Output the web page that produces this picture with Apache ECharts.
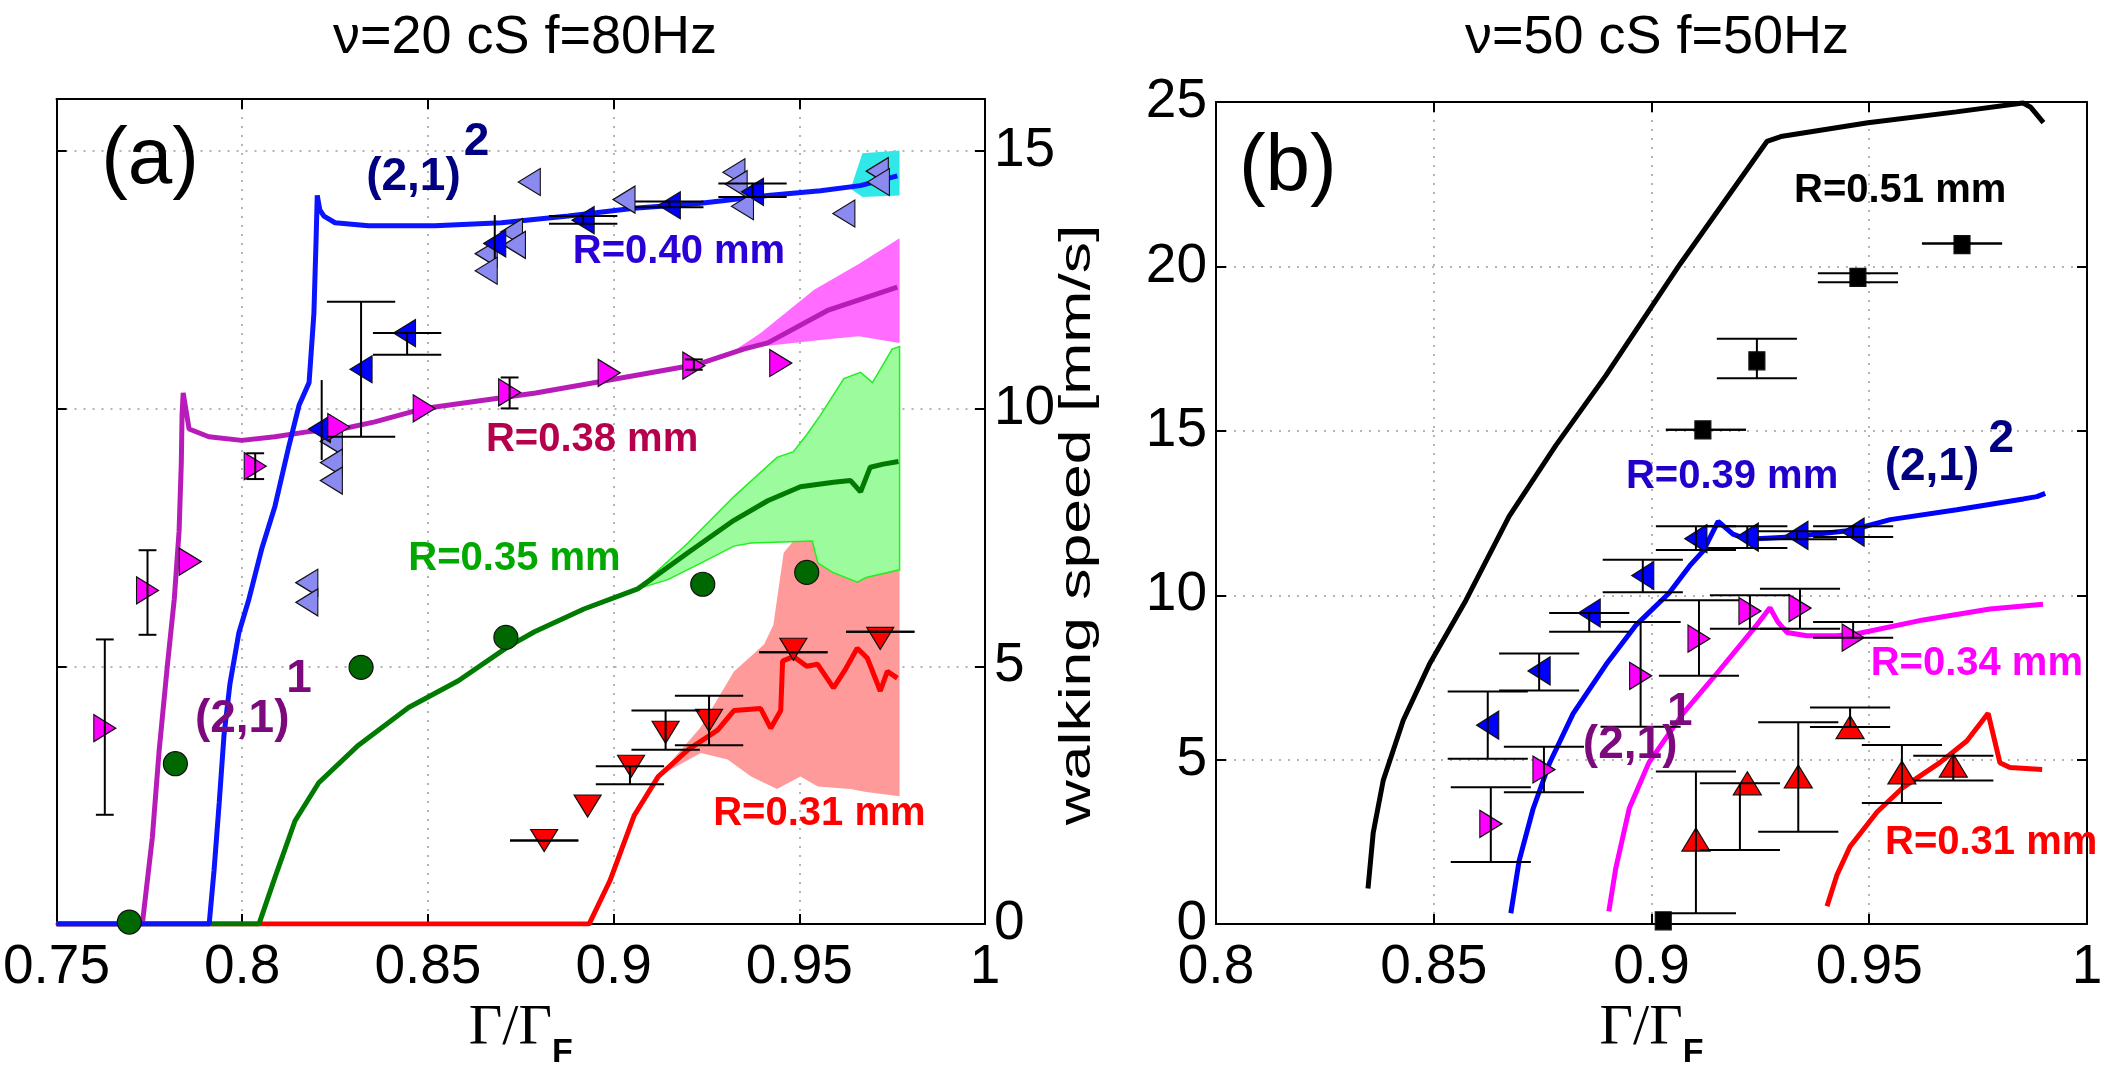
<!DOCTYPE html>
<html>
<head>
<meta charset="utf-8">
<title>walking speed vs forcing</title>
<script src="https://cdn.jsdelivr.net/npm/echarts@6/dist/echarts.min.js"></script>
<style>
  html, body { margin: 0; padding: 0; background: #fff; }
  #chart { width: 2116px; height: 1075px; }
</style>
</head>
<body>
<div id="chart"></div>
<script>
// panel (a): nu = 20 cS, f = 80 Hz   -- [gamma/gammaF, speed mm/s]
const blueCurveA = [[0.75,0],[0.7911,0],[0.7924,1.03],[0.7938,2.35],[0.7951,3.67],[0.7967,4.66],[0.7991,5.65],[0.8018,6.3],[0.8053,7.29],[0.8088,8.1],[0.8126,9.28],[0.8153,10.06],[0.818,10.5],[0.8193,11.84],[0.8199,13.3],[0.8202,14.13],[0.8209,13.85],[0.822,13.73],[0.825,13.6],[0.834,13.54],[0.8518,13.54],[0.8698,13.6],[0.8878,13.73],[0.9055,13.88],[0.9235,13.98],[0.9415,14.13],[0.9557,14.22],[0.9664,14.32],[0.9764,14.51]];
const magCurveA = [[0.75,0],[0.7731,0],[0.7758,1.68],[0.7776,3.34],[0.7798,4.98],[0.7817,6.3],[0.783,7.62],[0.7836,8.95],[0.7838,9.87],[0.7841,10.3],[0.7857,9.6],[0.791,9.45],[0.7999,9.38],[0.8088,9.45],[0.8179,9.55],[0.8268,9.6],[0.8357,9.74],[0.849,10.0],[0.879,10.3],[0.905,10.63],[0.9224,10.85],[0.935,11.15],[0.9415,11.27],[0.9576,11.9],[0.9764,12.35]];
const greenCurveA = [[0.75,0],[0.8045,0],[0.8088,0.9],[0.8142,2.0],[0.8206,2.74],[0.8313,3.47],[0.8448,4.2],[0.8582,4.72],[0.8716,5.38],[0.8787,5.67],[0.892,6.11],[0.9065,6.5],[0.92,7.2],[0.9324,7.83],[0.9415,8.21],[0.9503,8.48],[0.9592,8.57],[0.9638,8.6],[0.9665,8.38],[0.9691,8.86],[0.9726,8.92],[0.9767,8.97]];
const redCurveA = [[0.75,0],[0.8934,0],[0.899,0.84],[0.9055,2.1],[0.912,2.86],[0.92,3.38],[0.928,3.76],[0.9324,4.14],[0.9396,4.18],[0.9423,3.8],[0.945,4.14],[0.9455,5.1],[0.9484,5.19],[0.952,5.0],[0.9549,5.04],[0.9592,4.58],[0.9625,4.95],[0.9656,5.35],[0.9683,5.16],[0.9718,4.52],[0.9737,4.9],[0.9764,4.77]];

const magBandUpA = [[0.932,11.1],[0.9396,11.46],[0.954,12.3],[0.966,12.8],[0.977,13.3]];
const magBandLoA = [[0.932,11.1],[0.9396,11.2],[0.9576,11.34],[0.966,11.4],[0.977,11.27]];
const greenBandUpA = [[0.9065,6.5],[0.92,7.39],[0.9324,8.29],[0.944,9.05],[0.9484,9.16],[0.952,9.49],[0.9557,9.87],[0.962,10.58],[0.9665,10.7],[0.9697,10.5],[0.975,11.15],[0.977,11.2]];
const greenBandLoA = [[0.9065,6.5],[0.9146,6.68],[0.9235,7.0],[0.9324,7.33],[0.937,7.39],[0.9535,7.43],[0.955,7.0],[0.959,6.82],[0.9656,6.63],[0.968,6.72],[0.977,6.87]];
const redBandUpA = [[0.905,2.1],[0.912,2.86],[0.9235,3.82],[0.9324,4.9],[0.9405,5.42],[0.943,5.8],[0.944,6.3],[0.9458,7.2],[0.9484,7.43],[0.9535,7.43],[0.977,7.43]];
const redBandLoA = [[0.905,2.1],[0.912,2.86],[0.9235,3.32],[0.9307,3.19],[0.937,2.86],[0.944,2.62],[0.9503,2.86],[0.955,2.67],[0.9638,2.62],[0.968,2.56],[0.977,2.48]];
const cyanBandUpA = [[0.964,14.3],[0.967,14.95],[0.977,15.0]];
const cyanBandLoA = [[0.964,14.25],[0.967,14.1],[0.977,14.13]];

const lavenderA = [[0.8174,6.62],[0.8174,6.24],[0.824,9.36],[0.824,8.95],[0.824,8.6],[0.8657,13.0],[0.8657,12.67],[0.8725,13.42],[0.8733,13.17],[0.8773,14.39],[0.9028,14.05],[0.9324,14.58],[0.933,14.35],[0.9347,13.92],[0.962,13.78],[0.971,14.6],[0.9713,14.39]];
const blueA = [[0.8208,9.6],[0.832,10.76],[0.8437,11.46],[0.868,13.2],[0.8918,13.65],[0.915,13.94],[0.9374,14.2]];
const magA = [[0.763,3.8],[0.7745,6.47],[0.786,7.03],[0.8035,8.88],[0.826,9.64],[0.849,10.0],[0.872,10.31],[0.8988,10.69],[0.9216,10.83],[0.945,10.88]];
const greenA = [[0.7696,0.04],[0.782,3.11],[0.832,4.98],[0.871,5.56],[0.924,6.59],[0.952,6.82]];
const redA = [[0.8813,1.62],[0.893,2.29],[0.9047,3.06],[0.914,3.72],[0.9257,3.95],[0.9484,5.33],[0.9718,5.54]];

// error bars [x, low, high]
const errWideA = [[0.832,9.45,12.07],[0.8444,11.04,11.46],[0.8918,13.58,13.73],[0.915,13.9,14.01],[0.9374,14.1,14.36],[0.8813,1.62,1.62],[0.9044,2.71,3.06],[0.914,3.38,4.14],[0.9257,3.47,4.43],[0.9484,5.27,5.27],[0.9718,5.67,5.67]];
const errBareA = [[0.8214,9.0,10.55],[0.868,12.9,13.75]];
const errNarrowA = [[0.763,2.12,5.52],[0.7745,5.61,7.25],[0.8035,8.63,9.13],[0.872,10.0,10.6],[0.9216,10.75,10.95]];

// panel (b): nu = 50 cS, f = 50 Hz
const blackCurveB = [[0.8349,1.08],[0.8361,2.78],[0.8384,4.37],[0.843,6.2],[0.849,7.9],[0.8574,9.85],[0.8673,12.4],[0.878,14.55],[0.8895,16.68],[0.9065,20.06],[0.9265,23.8],[0.9297,23.95],[0.9497,24.37],[0.97,24.7],[0.9853,24.97],[0.987,24.85],[0.99,24.37]];
const blueCurveB = [[0.8677,0.33],[0.8696,1.92],[0.8728,3.5],[0.8766,4.9],[0.882,6.4],[0.8896,7.9],[0.8965,9.1],[0.904,10.06],[0.9088,10.9],[0.9119,11.35],[0.9153,12.25],[0.9187,11.86],[0.922,11.7],[0.9318,11.77],[0.9456,11.97],[0.9548,12.3],[0.9701,12.6],[0.9854,12.93],[0.9885,13.0],[0.9904,13.1]];
const magCurveB = [[0.8902,0.39],[0.8918,1.7],[0.8949,3.52],[0.8994,4.91],[0.9072,6.4],[0.9148,7.59],[0.9242,9.1],[0.9272,9.62],[0.929,9.19],[0.9311,8.87],[0.9357,8.77],[0.9426,8.77],[0.9472,8.83],[0.9624,9.25],[0.9777,9.58],[0.9899,9.73]];
const redCurveB = [[0.9403,0.54],[0.9426,1.5],[0.9456,2.36],[0.9518,3.41],[0.9578,4.16],[0.9662,4.91],[0.9724,5.57],[0.9773,6.41],[0.98,4.91],[0.9823,4.76],[0.9897,4.7]];

const blueB = [[0.8624,6.05],[0.8742,7.7],[0.8857,9.46],[0.898,10.6],[0.9102,11.72],[0.922,11.77],[0.9334,11.82],[0.9463,11.92]];
const magB = [[0.8631,3.05],[0.8753,4.7],[0.8975,7.55],[0.9109,8.68],[0.9226,9.52],[0.9341,9.61],[0.9463,8.71]];
const redB = [[0.9102,2.57],[0.922,4.28],[0.9337,4.49],[0.9456,5.99],[0.9575,4.61],[0.9693,4.82]];
const blackB = [[0.9027,0.1],[0.9118,15.03],[0.9242,17.13],[0.9474,19.67],[0.9713,20.66]];

const errB = [[0.8624,5.03,7.07],[0.8742,7.1,8.23],[0.8857,8.89,9.46],[0.898,10.09,11.08],[0.9102,11.38,12.1],[0.922,11.44,12.1],[0.9334,11.7,11.95],[0.9463,11.77,12.1],
  [0.8631,1.89,4.16],[0.8753,4.01,5.39],[0.8975,6.0,9.19],[0.9109,7.55,9.85],[0.9226,8.98,10.0],[0.9341,8.98,10.2],[0.9463,8.71,9.19],
  [0.9102,0.33,4.64],[0.9203,2.25,4.28],[0.9337,2.81,6.14],[0.9456,5.99,6.59],[0.9575,3.68,5.45],[0.9693,4.37,5.12],
  [0.9125,15.03,15.03],[0.9242,16.6,17.8],[0.9474,19.52,19.79],[0.9713,20.7,20.7]];

const xTicksA = [0.75, 1, 0.05];
const xTicksB = [0.8, 1, 0.05];
const yTicksA = [0, 16, 5];
const yTicksB = [0, 25, 5];

const chart = echarts.init(document.getElementById('chart'));
const FONT = 'Liberation Sans';

function band(g, up, lo, fill, edge) {
  return {
    type: 'custom', xAxisIndex: g * 2, yAxisIndex: g * 2, z: 1, silent: true,
    data: [up[0]],
    renderItem: function (params, api) {
      const pts = up.map(p => api.coord(p)).concat(lo.slice().reverse().map(p => api.coord(p)));
      return { type: 'polygon', shape: { points: pts }, style: { fill: fill, stroke: edge, lineWidth: edge ? 1.5 : 0 } };
    }
  };
}

function curve(g, data, color) {
  return {
    type: 'line', xAxisIndex: g * 2, yAxisIndex: g * 2, z: 2, silent: true,
    data: data, showSymbol: false, smooth: false,
    lineStyle: { color: color, width: 5 }
  };
}

function errors(g, rows, halfCap) {
  return {
    type: 'custom', xAxisIndex: g * 2, yAxisIndex: g * 2, z: 5, silent: true,
    data: rows, encode: { x: 0, y: [1, 2] },
    renderItem: function (params, api) {
      const x = api.value(0), lo = api.value(1), hi = api.value(2);
      const a = api.coord([x, lo]), b = api.coord([x, hi]);
      const st = { stroke: '#000', lineWidth: 2 };
      const kids = [{ type: 'line', shape: { x1: a[0], y1: a[1], x2: b[0], y2: b[1] }, style: st }];
      if (halfCap > 0) {
        [lo, hi].forEach(v => {
          const l = api.coord([x - halfCap, v]), r = api.coord([x + halfCap, v]);
          kids.push({ type: 'line', shape: { x1: l[0], y1: l[1], x2: r[0], y2: r[1] }, style: st });
        });
      }
      return { type: 'group', children: kids };
    }
  };
}

function marks(g, data, symbol, rotate, size, color) {
  return {
    type: 'scatter', xAxisIndex: g * 2, yAxisIndex: g * 2, z: 4, silent: true,
    data: data, symbol: symbol, symbolRotate: rotate, symbolSize: size,
    itemStyle: { color: color, borderColor: '#111', borderWidth: 1.2, opacity: 1 }
  };
}

function note(g, x, y, text, color, size, weight) {
  return {
    type: 'scatter', xAxisIndex: g * 2, yAxisIndex: g * 2, z: 6, silent: true,
    symbolSize: 0, data: [[x, y]], itemStyle: { opacity: 1 },
    label: { show: true, position: 'inside', formatter: text, color: color, fontSize: size,
      fontWeight: weight || 'bold', fontFamily: FONT, opacity: 1 }
  };
}

const axisLine = { show: true, onZero: false, lineStyle: { color: '#000', width: 2 } };
const axisTick = { show: true, inside: true, length: 10, lineStyle: { color: '#000', width: 2 } };
const tickFont = { color: '#000', fontSize: 55, fontFamily: FONT };
const dotted = { show: true, lineStyle: { color: '#b4b4b4', type: [2, 7], width: 2 } };
const gammaName = '{g|Γ/Γ}{f|F}';
const gammaStyle = { rich: {
  g: { fontFamily: 'Liberation Serif', fontSize: 58, color: '#000', verticalAlign: 'top' },
  f: { fontFamily: FONT, fontWeight: 'bold', fontSize: 34, color: '#000', padding: [36, 0, 0, 0], verticalAlign: 'bottom' }
} };

function xAx(g, ticks, pos) {
  const main = pos === 'bottom';
  return {
    gridIndex: g, type: 'value', min: ticks[0], max: ticks[1], interval: ticks[2], position: pos,
    axisLine: axisLine, axisTick: axisTick,
    axisLabel: main ? Object.assign({ margin: 16 }, tickFont) : { show: false },
    splitLine: main ? dotted : { show: false },
    name: main ? gammaName : '', nameLocation: 'middle', nameGap: 64, nameTextStyle: gammaStyle
  };
}
function yAx(g, ticks, pos, labels) {
  return {
    gridIndex: g, type: 'value', min: ticks[0], max: ticks[1], interval: ticks[2], position: pos,
    axisLine: axisLine, axisTick: axisTick,
    axisLabel: labels ? Object.assign({ margin: 9, showMaxLabel: ticks[1] % ticks[2] === 0 }, tickFont) : { show: false },
    splitLine: labels ? dotted : { show: false }
  };
}

const NAVY = '#000080', PURPLE = '#7d0a7d';

chart.setOption({
  animation: false,
  backgroundColor: '#fff',
  title: [
    { text: 'ν=20 cS f=80Hz', left: 520, top: 6, textAlign: 'center',
      textStyle: { fontSize: 54, fontWeight: 'normal', color: '#000', fontFamily: FONT } },
    { text: 'ν=50 cS f=50Hz', left: 1652, top: 6, textAlign: 'center',
      textStyle: { fontSize: 54, fontWeight: 'normal', color: '#000', fontFamily: FONT } }
  ],
  grid: [
    { left: 54, top: 99, width: 931, height: 838 },
    { left: 1216, top: 102, width: 871, height: 835 }
  ],
  xAxis: [xAx(0, xTicksA, 'bottom'), xAx(0, xTicksA, 'top'), xAx(1, xTicksB, 'bottom'), xAx(1, xTicksB, 'top')],
  yAxis: [yAx(0, yTicksA, 'right', true), yAx(0, yTicksA, 'left', false), yAx(1, yTicksB, 'left', true), yAx(1, yTicksB, 'right', false)],
  graphic: [{
    type: 'text', x: 1078, y: 525, rotation: Math.PI / 2, scaleX: 1.42,
    style: { text: 'walking speed [mm/s]', font: '44px "Liberation Sans"', fill: '#000', align: 'center', verticalAlign: 'middle' }
  }],
  series: [
    band(0, redBandUpA, redBandLoA, '#ff9a9a', null),
    band(0, greenBandUpA, greenBandLoA, '#9cfb9c', '#22ee22'),
    band(0, magBandUpA, magBandLoA, '#ff6cff', null),
    band(0, cyanBandUpA, cyanBandLoA, '#30e8e8', null),
    curve(0, redCurveA, '#ff0000'),
    curve(0, greenCurveA, '#007a00'),
    curve(0, magCurveA, '#b81cb8'),
    curve(0, blueCurveA, '#0a14ff'),
    marks(0, lavenderA, 'triangle', 90, [27, 22], '#8a8af0'),
    marks(0, blueA, 'triangle', 90, [27, 22], '#0000ff'),
    marks(0, magA, 'triangle', -90, [27, 22], '#ff00ff'),
    marks(0, greenA, 'circle', 0, 24, '#006800'),
    marks(0, redA, 'triangle', 180, [27, 22], '#ff0000'),
    errors(0, errWideA, 0.0092),
    errors(0, errBareA, 0),
    errors(0, errNarrowA, 0.0024),

    curve(1, blackCurveB, '#000000'),
    curve(1, redCurveB, '#ff0000'),
    curve(1, magCurveB, '#ff00ff'),
    curve(1, blueCurveB, '#0000ff'),
    marks(1, blueB, 'triangle', 90, [28, 22], '#0000ff'),
    marks(1, magB, 'triangle', -90, [27, 22], '#ff00ff'),
    marks(1, redB, 'triangle', 0, [28, 23], '#ff0000'),
    marks(1, blackB, 'rect', 0, [16, 18], '#000000'),
    errors(1, errB, 0.0092),

    note(0, 0.7752, 14.8, '(a)', '#000', 80, 'normal'),
    note(0, 0.8461, 14.49, '(2,1)', NAVY, 46),
    note(0, 0.8631, 15.16, '2', NAVY, 46),
    note(0, 0.9176, 13.04, 'R=0.40 mm', '#2a00d6', 40),
    note(0, 0.8942, 9.39, 'R=0.38 mm', '#b5004c', 40),
    note(0, 0.8733, 7.08, 'R=0.35 mm', '#00a800', 40),
    note(0, 0.9554, 2.14, 'R=0.31 mm', '#ff0000', 40),
    note(0, 0.8, 3.97, '(2,1)', PURPLE, 46),
    note(0, 0.8153, 4.75, '1', PURPLE, 46),

    note(1, 0.8165, 23.0, '(b)', '#000', 80, 'normal'),
    note(1, 0.9571, 22.28, 'R=0.51 mm', '#000', 40),
    note(1, 0.9185, 13.59, 'R=0.39 mm', '#2200cc', 40),
    note(1, 0.9644, 13.89, '(2,1)', NAVY, 46),
    note(1, 0.9803, 14.73, '2', NAVY, 46),
    note(1, 0.9747, 7.9, 'R=0.34 mm', '#ff00ff', 40),
    note(1, 0.8951, 5.45, '(2,1)', PURPLE, 46),
    note(1, 0.9065, 6.44, '1', PURPLE, 46),
    note(1, 0.978, 2.46, 'R=0.31 mm', '#ff0000', 40)
  ]
});
</script>
</body>
</html>
